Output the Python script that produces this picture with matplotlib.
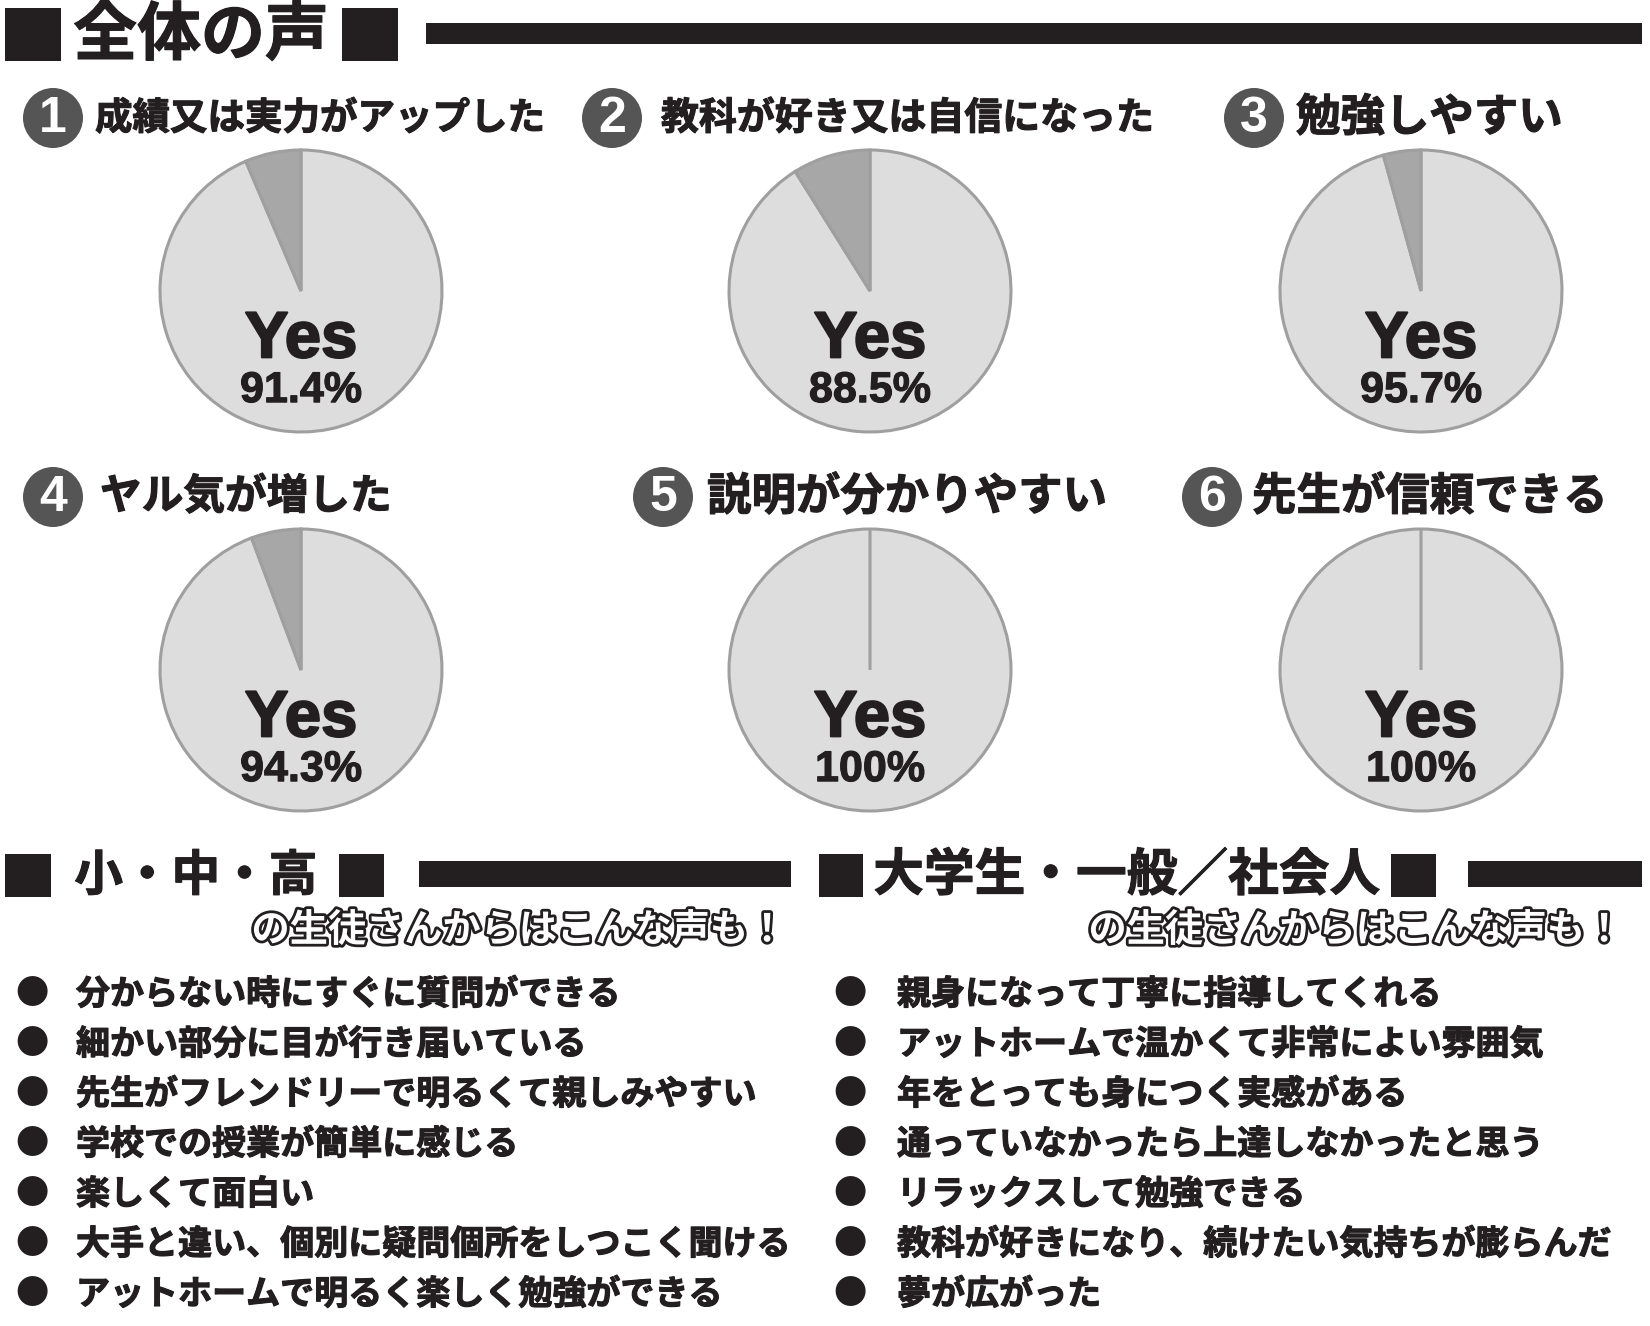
import matplotlib
matplotlib.use("Agg")
import matplotlib.pyplot as plt
import matplotlib.patheffects as pe
from matplotlib.patches import Rectangle, Circle

# Global style
plt.rcParams['font.family'] = ['Noto Sans CJK JP', 'DejaVu Sans']
INK = '#231f20'
YES_FILL = '#dddddd'
NO_FILL = '#a7a7a7'
EDGE = '#9f9f9f'

# Data
pie_titles = [
    "成績又は実力がアップした",
    "教科が好き又は自信になった",
    "勉強しやすい",
    "ヤル気が増した",
    "説明が分かりやすい",
    "先生が信頼できる",
]
yes_pct = [91.4, 88.5, 95.7, 94.3, 100, 100]
# share of the darker wedge as drawn in the picture
other_pct = [6.4, 8.9, 4.3, 5.7, 0, 0]

school_voices = [
    "分からない時にすぐに質問ができる",
    "細かい部分に目が行き届いている",
    "先生がフレンドリーで明るくて親しみやすい",
    "学校での授業が簡単に感じる",
    "楽しくて面白い",
    "大手と違い、個別に疑問個所をしつこく聞ける",
    "アットホームで明るく楽しく勉強ができる",
]
adult_voices = [
    "親身になって丁寧に指導してくれる",
    "アットホームで温かくて非常によい雰囲気",
    "年をとっても身につく実感がある",
    "通っていなかったら上達しなかったと思う",
    "リラックスして勉強できる",
    "教科が好きになり、続けたい気持ちが膨らんだ",
    "夢が広がった",
]

W, H = 1650, 1326
fig = plt.figure(figsize=(W / 100, H / 100), dpi=100)
fig.patch.set_facecolor('white')

# Pixel-coordinate overlay for headings and lists
ax = fig.add_axes([0, 0, 1, 1])
ax.set_xlim(0, W)
ax.set_ylim(H, 0)
ax.axis('off')

bold = [pe.withStroke(linewidth=0.8, foreground=INK)]


def block(x0, y0, x1, y1):
    ax.add_patch(Rectangle((x0, y0), x1 - x0, y1 - y0, color=INK, lw=0))


# Main header
block(5, 8, 61, 61)
ax.text(201, 36, "全体の声", fontsize=46, fontweight='bold', color=INK,
        ha='center', va='center', path_effects=bold)
block(342, 8, 398, 61)
block(426, 23, 1642, 44)

# Pies
pie_cx = [301, 870, 1421]
pie_cy = [291, 670]
R = 141
badge_xy = [(53, 118), (612, 118), (1254, 118), (53, 497), (663, 497), (1212, 497)]
title_x = [95, 661, 1296, 100, 707, 1252]
title_fs = [27, 27.3, 32, 30, 32, 32]

for i, title in enumerate(pie_titles):
    cx = pie_cx[i % 3]
    cy = pie_cy[i // 3]
    m = 1.05
    pax = fig.add_axes([(cx - R * m) / W, 1 - (cy + R * m) / H,
                        2 * R * m / W, 2 * R * m / H])
    pax.pie([100 - other_pct[i], other_pct[i]], colors=[YES_FILL, NO_FILL],
            startangle=90, counterclock=False, radius=1,
            wedgeprops=dict(edgecolor=EDGE, linewidth=2.2))
    pax.set_xlim(-m, m)
    pax.set_ylim(-m, m)
    pax.set_aspect('equal')
    pax.axis('off')
    pax.text(0, -0.35, "Yes", fontsize=47, fontweight='bold', color=INK,
             family='Liberation Sans', ha='center', va='center',
             path_effects=[pe.withStroke(linewidth=1.5, foreground=INK)])
    pax.text(0, -0.71, f"{yes_pct[i]:g}%", fontsize=31, fontweight='bold',
             color=INK, family='Liberation Sans', ha='center', va='center',
             path_effects=[pe.withStroke(linewidth=0.8, foreground=INK)])

    bx, by = badge_xy[i]
    ax.add_patch(Circle((bx, by), 30, color='#555555', lw=0))
    ax.text(bx, by + 1, str(i + 1), fontsize=36, fontweight='bold',
            color='white', family='Liberation Sans', ha='center', va='center')
    ax.text(title_x[i], by, title, fontsize=title_fs[i], fontweight='bold',
            color=INK, ha='left', va='center', path_effects=bold)

# Lower section headers
block(5, 854, 51, 897)
ax.text(196, 876, "小・中・高", fontsize=35, fontweight='bold', color=INK,
        ha='center', va='center', path_effects=bold)
block(339, 854, 384, 897)
block(419, 861, 791, 887)

block(819, 854, 863, 897)
ax.text(1127, 876, "大学生・一般／社会人", fontsize=36.5, fontweight='bold',
        color=INK, ha='center', va='center', path_effects=bold)
block(1391, 854, 1436, 897)
block(1468, 861, 1642, 887)

outline = [pe.withStroke(linewidth=4, foreground=INK)]
for xr in (787, 1624):
    ax.text(xr, 930, "の生徒さんからはこんな声も！", fontsize=27.5,
            fontweight='bold', color='white', ha='right', va='center',
            path_effects=outline)

# Bullet lists
row_y0, row_step = 994, 50
for items, bx, tx in ((school_voices, 32, 76), (adult_voices, 850, 897)):
    for k, line in enumerate(items):
        y = row_y0 + k * row_step
        ax.text(bx, y, "●", fontsize=24, color=INK, ha='center', va='center')
        ax.text(tx, y, line, fontsize=24.5, fontweight='bold', color=INK,
                ha='left', va='center', path_effects=bold)

fig.savefig("out.png", dpi=100, facecolor='white')
